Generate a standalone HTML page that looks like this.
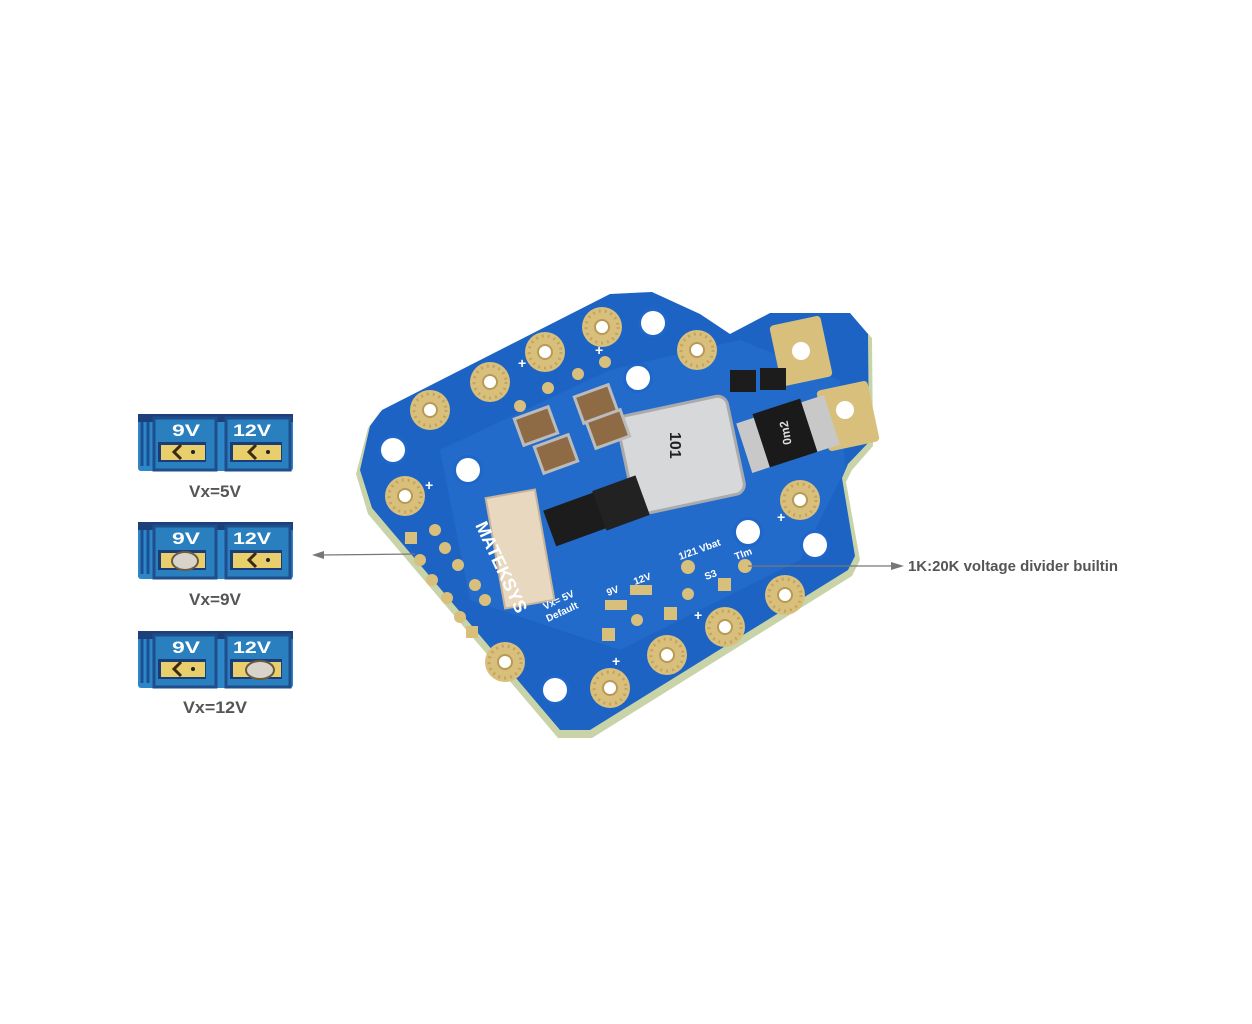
<!DOCTYPE html>
<html><head><meta charset="utf-8"><style>
html,body{margin:0;padding:0;background:#fff;}
svg{display:block}
text{font-family:"Liberation Sans Narrow","Liberation Sans",sans-serif;font-weight:bold}
</style></head><body>
<svg width="1252" height="1024" viewBox="0 0 1252 1024" xmlns="http://www.w3.org/2000/svg">
<defs>
<g id="pad"><circle r="20" fill="#d8bf7c"/><circle r="16" fill="none" stroke="#c4a35e" stroke-width="3" stroke-dasharray="2 4"/><circle r="7" fill="#fff" stroke="#b89a55" stroke-width="2"/></g>
<g id="hole"><circle r="15" fill="#1f66c9"/><circle r="12" fill="#fff"/></g>
<g id="panel">
<rect x="0" y="0" width="155" height="57" rx="3" fill="#2d86c8"/>
<rect x="0" y="0" width="155" height="8" fill="#1d3f7a"/>
<path d="M4 8 V52 M10 8 V52" stroke="#1a4f92" stroke-width="3"/>
<rect x="16" y="4" width="62" height="52" fill="#2a7fbf" stroke="#1e4e8c" stroke-width="3"/>
<rect x="88" y="4" width="64" height="52" fill="#2a7fbf" stroke="#1e4e8c" stroke-width="3"/>
<rect x="20" y="28" width="48" height="20" fill="#1a3c78"/>
<rect x="92" y="28" width="52" height="20" fill="#1a3c78"/>
<text x="34" y="22" fill="#fff" font-size="17" textLength="28" lengthAdjust="spacingAndGlyphs">9V</text>
<text x="95" y="22" fill="#fff" font-size="17" textLength="38" lengthAdjust="spacingAndGlyphs">12V</text>
<rect x="23" y="31" width="44" height="15" fill="#e9cf6b"/>
<rect x="95" y="31" width="48" height="15" fill="#e9cf6b"/>
</g>
</defs>

<g transform="translate(138,414)"><use href="#panel"/>
<path d="M43 31 l-7 7 l7 7" fill="none" stroke="#3a2a10" stroke-width="3"/><circle cx="55" cy="38" r="2" fill="#222"/>
<path d="M118 31 l-7 7 l7 7" fill="none" stroke="#3a2a10" stroke-width="3"/><circle cx="130" cy="38" r="2" fill="#222"/></g>
<text x="215" y="497" text-anchor="middle" font-size="17" fill="#555" textLength="52" lengthAdjust="spacingAndGlyphs">Vx=5V</text>

<g transform="translate(138,522)"><use href="#panel"/>
<ellipse cx="47" cy="39" rx="13" ry="9" fill="#d8d4cc" stroke="#6b5a40" stroke-width="2"/>
<path d="M118 31 l-7 7 l7 7" fill="none" stroke="#3a2a10" stroke-width="3"/><circle cx="130" cy="38" r="2" fill="#222"/></g>
<text x="215" y="605" text-anchor="middle" font-size="17" fill="#555" textLength="52" lengthAdjust="spacingAndGlyphs">Vx=9V</text>

<g transform="translate(138,631)"><use href="#panel"/>
<path d="M43 31 l-7 7 l7 7" fill="none" stroke="#3a2a10" stroke-width="3"/><circle cx="55" cy="38" r="2" fill="#222"/>
<ellipse cx="122" cy="39" rx="14" ry="9" fill="#d8d4cc" stroke="#6b5a40" stroke-width="2"/></g>
<text x="215" y="713" text-anchor="middle" font-size="17" fill="#555" textLength="64" lengthAdjust="spacingAndGlyphs">Vx=12V</text>

<!-- board -->
<polygon points="380,412 610,296 652,294 702,318 730,338 770,316 852,316 872,338 873,446 852,470 846,482 860,560 852,576 592,738 558,738 368,514 356,474 368,428" fill="#c9d3a8"/>
<polygon points="382,410 610,294 652,292 700,314 730,334 770,313 850,313 868,334 869,442 848,464 842,478 855,556 848,570 590,730 560,730 372,508 360,470 370,426" fill="#1d63c4"/>
<polygon points="440,450 610,370 740,340 840,380 845,470 800,560 620,650 470,600" fill="#2a74d0" opacity="0.5"/>

<use href="#pad" x="430" y="410"/><use href="#pad" x="490" y="382"/><use href="#pad" x="545" y="352"/>
<use href="#pad" x="602" y="327"/><use href="#pad" x="697" y="350"/><use href="#pad" x="405" y="496"/>
<use href="#pad" x="800" y="500"/><use href="#pad" x="785" y="595"/><use href="#pad" x="725" y="627"/>
<use href="#pad" x="667" y="655"/><use href="#pad" x="610" y="688"/><use href="#pad" x="505" y="662"/>
<use href="#hole" x="653" y="323"/><use href="#hole" x="393" y="450"/><use href="#hole" x="468" y="470"/>
<use href="#hole" x="748" y="532"/><use href="#hole" x="815" y="545"/><use href="#hole" x="555" y="690"/>
<use href="#hole" x="638" y="378"/>

<rect x="775" y="320" width="52" height="62" rx="4" fill="#d8bf7c" transform="rotate(-12 801 351)"/>
<circle cx="801" cy="351" r="9" fill="#fff"/>
<rect x="822" y="385" width="52" height="62" rx="4" fill="#d8bf7c" transform="rotate(-12 848 416)"/>
<circle cx="845" cy="410" r="9" fill="#fff"/>
<rect x="742" y="408" width="92" height="52" fill="#c8c8c8" transform="rotate(-18 788 434)"/>
<rect x="760" y="405" width="50" height="56" fill="#1a1a1a" transform="rotate(-18 785 433)"/>
<text x="775" y="440" fill="#ddd" font-size="12" transform="rotate(-100 785 435)">0m2</text>
<rect x="625" y="405" width="112" height="100" rx="10" fill="#d6d8da" stroke="#a8aaad" stroke-width="3" transform="rotate(-12 681 455)"/>
<text x="662" y="450" font-size="16" fill="#222" font-family="Liberation Mono" transform="rotate(90 675 445)">101</text>
<rect x="518" y="412" width="36" height="28" fill="#8e6a45" stroke="#bbb" stroke-width="3" transform="rotate(-20 536 426)"/>
<rect x="538" y="440" width="36" height="28" fill="#8e6a45" stroke="#bbb" stroke-width="3" transform="rotate(-20 556 454)"/>
<rect x="578" y="390" width="36" height="28" fill="#8e6a45" stroke="#bbb" stroke-width="3" transform="rotate(-20 596 404)"/>
<rect x="590" y="415" width="36" height="28" fill="#8e6a45" stroke="#bbb" stroke-width="3" transform="rotate(-20 608 429)"/>
<rect x="548" y="500" width="56" height="38" fill="#1c1c1c" transform="rotate(-20 576 519)"/>
<rect x="598" y="482" width="46" height="42" fill="#222" transform="rotate(-20 621 503)"/>
<rect x="730" y="370" width="26" height="22" fill="#1c1c1c"/><rect x="760" y="368" width="26" height="22" fill="#1c1c1c"/>
<rect x="495" y="493" width="50" height="112" fill="#e8d8c0" stroke="#c7b49a" stroke-width="2" transform="rotate(-10 520 549)"/>
<g fill="#d8bf7c">
<rect x="602" y="628" width="13" height="13"/><rect x="664" y="607" width="13" height="13"/><rect x="718" y="578" width="13" height="13"/>
<circle cx="637" cy="620" r="6"/><circle cx="688" cy="594" r="6"/><circle cx="688" cy="567" r="7"/><circle cx="745" cy="566" r="7"/>
<rect x="605" y="600" width="22" height="10"/><rect x="630" y="585" width="22" height="10"/>
<rect x="405" y="532" width="12" height="12"/><circle cx="420" cy="560" r="6"/><circle cx="432" cy="580" r="6"/><circle cx="447" cy="598" r="6"/>
<circle cx="460" cy="617" r="6"/><rect x="466" y="626" width="12" height="12"/><circle cx="435" cy="530" r="6"/><circle cx="445" cy="548" r="6"/>
<circle cx="458" cy="565" r="6"/><circle cx="475" cy="585" r="6"/><circle cx="485" cy="600" r="6"/>
<circle cx="520" cy="406" r="6"/><circle cx="548" cy="388" r="6"/><circle cx="578" cy="374" r="6"/><circle cx="605" cy="362" r="6"/>
</g>
<g fill="#fff" font-size="10" font-family="Liberation Sans">
<text x="475" y="525" font-size="18" transform="rotate(65 475 525)">MATEKSYS</text>
<text x="680" y="560" transform="rotate(-20 680 560)">1/21 Vbat</text>
<text x="736" y="560" transform="rotate(-20 736 560)">Tlm</text>
<text x="706" y="580" transform="rotate(-20 706 580)">S3</text>
<text x="545" y="610" transform="rotate(-25 545 610)">Vx= 5V</text>
<text x="548" y="622" transform="rotate(-25 548 622)">Default</text>
<text x="635" y="585" transform="rotate(-20 635 585)">12V</text>
<text x="608" y="596" transform="rotate(-20 608 596)">9V</text>
<text x="425" y="490" font-size="14">+</text><text x="777" y="522" font-size="14">+</text>
<text x="518" y="368" font-size="14">+</text><text x="595" y="355" font-size="14">+</text>
<text x="612" y="666" font-size="14">+</text><text x="694" y="620" font-size="14">+</text>
</g>

<line x1="415" y1="554" x2="322" y2="555" stroke="#777" stroke-width="1.3"/>
<polygon points="312,555 324,551 324,559" fill="#777"/>
<line x1="748" y1="566" x2="893" y2="566" stroke="#777" stroke-width="1.3"/>
<polygon points="904,566 891,562 891,570" fill="#777"/>
<text x="908" y="571" font-size="15" fill="#555" textLength="210" lengthAdjust="spacingAndGlyphs">1K:20K voltage divider builtin</text>
</svg>
</body></html>
